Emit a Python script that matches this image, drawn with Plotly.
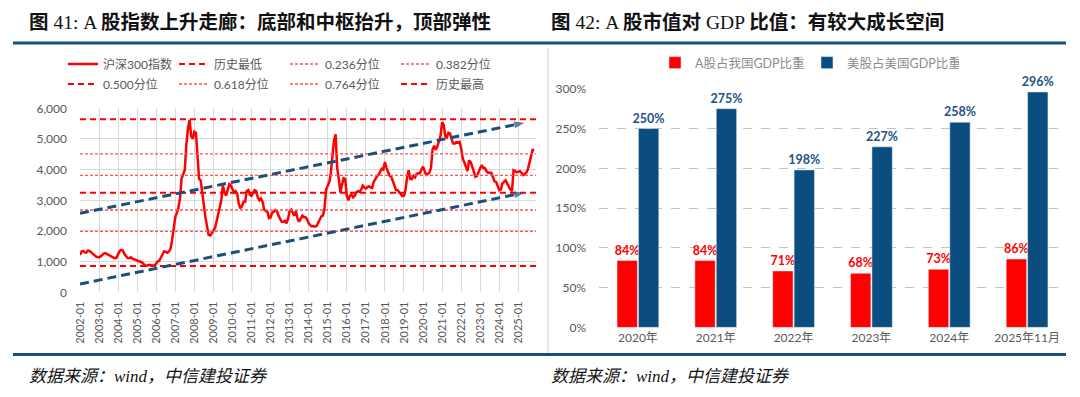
import plotly.graph_objects as go
import pandas as pd

# ---------------- Data: left chart (CSI 300 monthly, 2002-01 .. 2025-11) ----------------
csi300_monthly = [
    1220, 1330, 1350, 1300, 1290, 1360, 1350, 1300, 1270, 1220, 1170, 1150,  # 2002
    1140, 1170, 1220, 1260, 1280, 1250, 1220, 1190, 1160, 1130, 1110, 1130,  # 2003
    1250, 1350, 1380, 1360, 1250, 1170, 1120, 1110, 1140, 1100, 1080, 1050,  # 2004
    1040, 1030, 1000, 975, 930, 880, 870, 880, 900, 880, 865, 870,           # 2005
    940, 1010, 1030, 1120, 1250, 1340, 1320, 1290, 1330, 1420, 1700, 2000,   # 2006
    2450, 2600, 2750, 3050, 3700, 3850, 3980, 4800, 5350, 5620, 5100, 5000,  # 2007
    5240, 5200, 4500, 3700, 3650, 3200, 2850, 2450, 2150, 1870, 1850, 1930,  # 2008
    1980, 2100, 2300, 2550, 2800, 3000, 3480, 3250, 3150, 3350, 3530, 3480,  # 2009
    3350, 3250, 3300, 3230, 2900, 2740, 2800, 2950, 2950, 3300, 3330, 3180,  # 2010
    3150, 3250, 3330, 3300, 3100, 3000, 3060, 2950, 2700, 2650, 2630, 2420,  # 2011
    2440, 2600, 2620, 2680, 2650, 2500, 2400, 2300, 2300, 2330, 2250, 2400,  # 2012
    2650, 2700, 2600, 2500, 2650, 2400, 2300, 2400, 2500, 2450, 2450, 2380,  # 2013
    2250, 2190, 2150, 2160, 2140, 2160, 2280, 2400, 2480, 2500, 2750, 3350,  # 2014
    3500, 3600, 3900, 4500, 4950, 5150, 4050, 3700, 3250, 3500, 3720, 3700,  # 2015
    3150, 3000, 3150, 3180, 3100, 3150, 3250, 3300, 3280, 3340, 3480, 3420,  # 2016
    3380, 3430, 3460, 3420, 3400, 3600, 3700, 3780, 3830, 3920, 4030, 4000,  # 2017
    4250, 4050, 3950, 3800, 3770, 3600, 3450, 3340, 3330, 3250, 3200, 3140,  # 2018
    3150, 3350, 3750, 3980, 3700, 3690, 3800, 3750, 3860, 3880, 3880, 4000,  # 2019
    4100, 3950, 3830, 3860, 3900, 4050, 4650, 4780, 4650, 4750, 4950, 5100,  # 2020
    5550, 5450, 5100, 5050, 5200, 5180, 5000, 4850, 4850, 4900, 4880, 4900,  # 2021
    4700, 4350, 4250, 4050, 3950, 4300, 4250, 4100, 3950, 3770, 3800, 3950,  # 2022
    4050, 4150, 4050, 4050, 3950, 3900, 3900, 3900, 3760, 3620, 3600, 3450,  # 2023
    3330, 3350, 3550, 3600, 3650, 3550, 3450, 3350, 3300, 3980, 3950, 3920,  # 2024
    3930, 3950, 3900, 3820, 3850, 3900, 4000, 4250, 4500, 4640, 4630,        # 2025
]
csi300_start = "2002-01-01"
csi300_name = "沪深300指数"

level_names = ["历史最低", "0.236分位", "0.382分位", "0.500分位", "0.618分位", "0.764分位", "历史最高"]
level_values = [857, 1986, 2684, 3249, 3813, 4511, 5641]
level_heavy = [True, False, False, True, False, False, True]

corridor_dates = ["2002-01-01", "2025-05-01"]
corridor_lower = [270, 3250]
corridor_upper = [2575, 5530]

left_range = ["2002-01-01", "2025-12-05"]
left_yticks = [0, 1000, 2000, 3000, 4000, 5000, 6000]

# ---------------- Data: right chart ----------------
gdp_years = ["2020年", "2021年", "2022年", "2023年", "2024年", "2025年11月"]
a_share_gdp = [84, 84, 71, 68, 73, 86]
us_share_gdp = [250, 275, 198, 227, 258, 296]
right_yticks = [0, 50, 100, 150, 200, 250, 300]

# ---------------- Geometry helpers ----------------
W, H = 1080, 397
def px(x):
    return x / W
def py(y):
    return 1 - y / H

RED = "#FF0000"
BLUE = "#0B4D7E"
NAVY = "#1F4E79"
GRAY = "#595959"
NUM = "Lato, Noto Sans CJK SC"
TITLE_FONT = "Liberation Serif, Noto Sans CJK SC"

months = pd.date_range(csi300_start, periods=len(csi300_monthly), freq="MS")

fig = go.Figure()

fig.add_trace(go.Scatter(
    x=months, y=csi300_monthly, mode="lines", name=csi300_name,
    line=dict(color=RED, width=2.5), xaxis="x", yaxis="y", legend="legend",
))

row1 = {"历史最低", "0.236分位", "0.382分位"}
for name, val, heavy in zip(level_names, level_values, level_heavy):
    if heavy:
        ln = dict(color=RED, width=2, dash="6px,4px")
    else:
        ln = dict(color="#FF5252", width=1.3, dash="3px,2px")
    fig.add_trace(go.Scatter(
        x=left_range, y=[val, val], mode="lines", name=name, line=ln,
        xaxis="x", yaxis="y", legend="legend" if name in row1 else "legend3",
    ))

for ys in (corridor_lower, corridor_upper):
    fig.add_trace(go.Scatter(
        x=corridor_dates, y=ys, mode="lines+markers", showlegend=False,
        line=dict(color=NAVY, width=3, dash="9px,5px"),
        marker=dict(symbol=["circle", "arrow"], size=[0, 11], color=NAVY,
                    angleref="previous", line=dict(width=0)),
        xaxis="x", yaxis="y", cliponaxis=False,
    ))

fig.add_trace(go.Bar(
    x=gdp_years, y=a_share_gdp, name="A股占我国GDP比重",
    marker=dict(color=RED), text=[f"{v}%" for v in a_share_gdp],
    textposition="outside", constraintext="none",
    textfont=dict(color=RED, size=12.5, family=NUM, weight="bold"),
    cliponaxis=False, xaxis="x2", yaxis="y2", legend="legend2",
))
fig.add_trace(go.Bar(
    x=gdp_years, y=us_share_gdp, name="美股占美国GDP比重",
    marker=dict(color=BLUE), text=[f"{v}%" for v in us_share_gdp],
    textposition="outside", constraintext="none",
    textfont=dict(color="#1F5384", size=12.5, family=NUM, weight="bold"),
    cliponaxis=False, xaxis="x2", yaxis="y2", legend="legend2",
))

leg_common = dict(orientation="h", xanchor="left", yanchor="middle",
                  bgcolor="rgba(0,0,0,0)", itemwidth=30, entrywidthmode="pixels",
                  font=dict(family=NUM, size=12, color=GRAY), tracegroupgap=0)

fig.update_layout(
    width=W, height=H, margin=dict(l=0, r=0, t=0, b=0, autoexpand=False),
    paper_bgcolor="white", plot_bgcolor="white",
    showlegend=True,
    bargap=0.45, bargroupgap=0.05,
    legend=dict(**leg_common, x=px(63), y=py(64), entrywidth=66),
    legend3=dict(**leg_common, x=px(63), y=py(84), entrywidth=66),
    legend2=dict(orientation="h", xanchor="left", yanchor="middle",
                 bgcolor="rgba(0,0,0,0)", itemwidth=30,
                 entrywidthmode="pixels", entrywidth=107,
                 x=px(655), y=py(63),
                 font=dict(family=NUM, size=12.5, color="#8C8C8C")),
    xaxis=dict(
        domain=[px(80), px(536)], anchor="y", type="date", range=left_range,
        tick0="2002-01-01", dtick="M12", tickformat="%Y-%m", tickangle=-90,
        showgrid=True, gridcolor="#D9D9D9", gridwidth=1, ticks="",
        showline=False, zeroline=False, ticklabelstandoff=6, automargin=False,
        tickfont=dict(family=NUM, size=11, color=GRAY),
    ),
    yaxis=dict(
        domain=[py(292.3), py(108.3)], anchor="x", range=[0, 6000],
        tickvals=left_yticks, tickformat=",", showgrid=True,
        gridcolor="#D9D9D9", gridwidth=1, zeroline=False, showline=False,
        ticks="", ticklabelstandoff=12, automargin=False,
        tickfont=dict(family=NUM, size=12, color=GRAY),
    ),
    xaxis2=dict(
        domain=[px(599), px(1066)], anchor="y2", type="category",
        showgrid=False, ticks="", showline=False, zeroline=False,
        ticklabelstandoff=2, automargin=False,
        tickfont=dict(family=NUM, size=12, color=GRAY),
    ),
    yaxis2=dict(
        domain=[py(327.4), py(88.8)], anchor="x2", range=[0, 300],
        tickvals=right_yticks, ticktext=[f"{v}%" for v in right_yticks],
        showgrid=True, gridcolor="#C4C4C4", gridwidth=1, griddash="dash",
        zeroline=False, showline=False, ticks="", ticklabelstandoff=12,
        automargin=False,
        tickfont=dict(family=NUM, size=12, color=GRAY),
    ),
)

fig.add_annotation(text="<b>图</b> 41: A <b>股指数上升走廊：底部和中枢抬升，顶部弹性</b>",
                   x=px(27), y=py(22), xref="paper", yref="paper",
                   xanchor="left", yanchor="middle", showarrow=False,
                   font=dict(family=TITLE_FONT, size=19.5, color="#111111"))
fig.add_annotation(text="<b>图</b> 42: A <b>股市值对</b> GDP <b>比值：有较大成长空间</b>",
                   x=px(549), y=py(22), xref="paper", yref="paper",
                   xanchor="left", yanchor="middle", showarrow=False,
                   font=dict(family=TITLE_FONT, size=19.5, color="#111111"))
for xl in (27, 549):
    fig.add_annotation(text="<i>数据来源：wind，中信建投证券</i>",
                       x=px(xl), y=py(376), xref="paper", yref="paper",
                       xanchor="left", yanchor="middle", showarrow=False,
                       font=dict(family=TITLE_FONT, size=17, color="#111111"))

for yl in (43, 354.5):
    fig.add_shape(type="line", xref="paper", yref="paper",
                  x0=px(13), x1=px(1066), y0=py(yl), y1=py(yl),
                  line=dict(color="#17507F", width=3))
fig.add_shape(type="line", xref="paper", yref="paper",
              x0=px(548), x1=px(548), y0=py(48), y1=py(353),
              line=dict(color="#D0D0D0", width=1))

fig.write_html("out.html", config={"displayModeBar": False},
               post_script="document.body.style.margin='0';")
